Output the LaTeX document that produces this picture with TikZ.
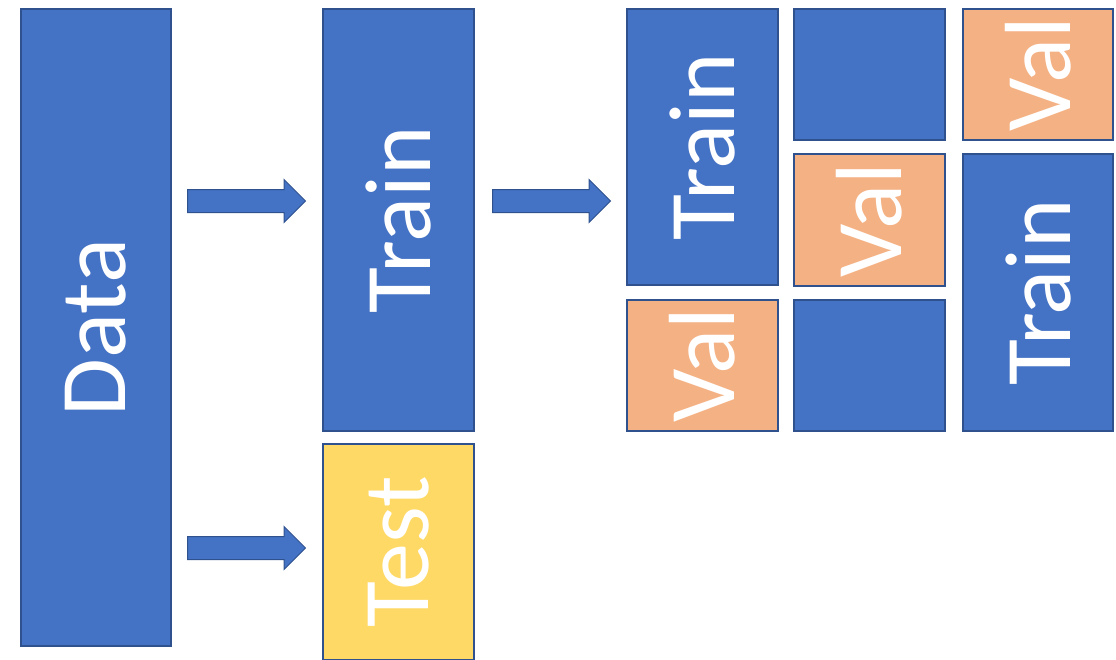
\documentclass[tikz,border=0pt]{standalone}
\usepackage{fontspec}
\setmainfont{Carlito}
\usetikzlibrary{shapes.arrows}

\definecolor{boxblue}{HTML}{4472C4}
\definecolor{edgeblue}{HTML}{2F528F}
\definecolor{valorange}{HTML}{F4B183}
\definecolor{testyellow}{HTML}{FFD966}

\tikzset{
  block/.style={draw=edgeblue, line width=1.2pt, fill=boxblue, inner sep=0pt,
    text=white, font=\fontsize{94}{94}\selectfont},
  trainbox/.style={block},
  valbox/.style={block, fill=valorange},
  testbox/.style={block, fill=testyellow},
  fatarrow/.style={single arrow, draw=edgeblue, line width=1pt, fill=boxblue,
    inner xsep=0pt, inner ysep=11pt, single arrow head extend=10pt,
    single arrow head indent=0pt, minimum height=118pt, anchor=tail},
}

\newcommand{\upright}[1]{\rotatebox{90}{#1}}

\begin{document}
\begin{tikzpicture}[x=1pt, y=-1pt]
  \useasboundingbox (0,0) rectangle (1116,659);

  % source data and the first split
  \node[block, minimum width=150pt, minimum height=637pt] (data) at (96,327.5) {\upright{Data}};
  \node[trainbox, minimum width=151pt, minimum height=422pt] (train) at (398.5,220) {\upright{Train}};
  \node[testbox, minimum width=151pt, minimum height=216pt] (test) at (398.5,552) {\upright{Test}};

  % block arrows
  \node[fatarrow] (a1) at (187,201) {};
  \node[fatarrow] (a2) at (187,548) {};
  \node[fatarrow] (a3) at (492,201) {};

  % three folds of the training part
  \node[trainbox, minimum width=151pt, minimum height=276pt] (f1t) at (702.5,147) {\upright{Train}};
  \node[valbox,   minimum width=151pt, minimum height=131pt] (f1v) at (702.5,365.5) {\upright{Val}};

  \node[trainbox, minimum width=151pt, minimum height=131pt] (f2a) at (869.5,74.5) {};
  \node[valbox,   minimum width=151pt, minimum height=132pt] (f2v) at (869.5,220) {\upright{Val}};
  \node[trainbox, minimum width=151pt, minimum height=131pt] (f2b) at (869.5,365.5) {};

  \node[valbox,   minimum width=150pt, minimum height=131pt] (f3v) at (1038,74.5) {\upright{Val}};
  \node[trainbox, minimum width=150pt, minimum height=277pt] (f3t) at (1038,292.5) {\upright{Train}};
\end{tikzpicture}
\end{document}
